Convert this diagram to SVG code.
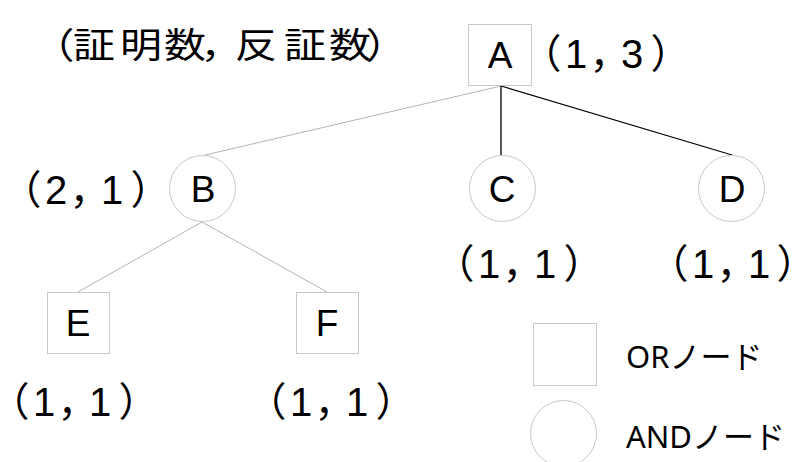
<svg xmlns="http://www.w3.org/2000/svg" width="799" height="462" viewBox="0 0 799 462">
<style>
.or{fill:#fff;stroke:#c8c8c8;stroke-width:1}
.and{fill:#fff;stroke:#c8c8c8;stroke-width:1}
.lbl{font-family:"Liberation Sans","Noto Sans CJK JP",sans-serif;font-size:37px;fill:#000;text-anchor:middle}
.num{font-family:"Liberation Sans","Noto Sans CJK JP",sans-serif;font-size:40px;fill:#000;font-feature-settings:"palt"}
.title{font-family:"Noto Sans CJK JP",sans-serif;font-size:42px;fill:#000;font-feature-settings:"palt"}
.leg{font-family:"Noto Sans","Noto Sans CJK JP",sans-serif;font-size:31px;fill:#000}
.thin{stroke:#b4b4b4;stroke-width:1;fill:none}
.bold{stroke:#000;stroke-width:1.3;fill:none}
</style>
<rect width="799" height="462" fill="#fff"/>
<g id="connectors">
<line class="thin" x1="501" y1="86" x2="205" y2="155"/>
<line class="bold" x1="501" y1="86" x2="501" y2="155"/>
<line class="bold" x1="501" y1="86" x2="732" y2="155"/>
<line class="thin" x1="202" y1="222" x2="78" y2="292"/>
<line class="thin" x1="202" y1="222" x2="327" y2="292"/>
</g>
<text class="title" transform="scale(1,0.85)" x="52 73 120 164 203 235 284 329 367" y="68.5">（証明数，反証数）</text>
<g id="node-A">
<rect class="or" x="468.5" y="24.5" width="63" height="61"/>
<text class="lbl" x="500" y="68">A</text>
<text class="num" x="540 565 592 621 652" y="68">（1，3）</text>
</g>
<g id="node-B">
<circle class="and" cx="202.5" cy="188.5" r="33"/>
<text class="lbl" x="203" y="202">B</text>
<text class="num" x="20 45 72 101 132" y="204">（2，1）</text>
</g>
<g id="node-C">
<circle class="and" cx="502.5" cy="188.5" r="33"/>
<text class="lbl" x="502" y="202">C</text>
<text class="num" x="453 478 505 534 565" y="278">（1，1）</text>
</g>
<g id="node-D">
<circle class="and" cx="731.5" cy="188.5" r="33"/>
<text class="lbl" x="732" y="202">D</text>
<text class="num" x="667 692 719 748 778" y="278">（1，1）</text>
</g>
<g id="node-E">
<rect class="or" x="47.5" y="292.5" width="62" height="61"/>
<text class="lbl" x="78" y="336">E</text>
<text class="num" x="8 33 60 89 120" y="416">（1，1）</text>
</g>
<g id="node-F">
<rect class="or" x="296.5" y="292.5" width="62" height="61"/>
<text class="lbl" x="327" y="336">F</text>
<text class="num" x="265 290 317 346 377" y="416">（1，1）</text>
</g>
<g id="legend">
<rect class="or" x="533.5" y="323.5" width="63" height="62"/>
<text class="leg" x="626" y="368">ORノード</text>
<circle class="and" cx="563.5" cy="433.5" r="33"/>
<text class="leg" x="626" y="448">ANDノード</text>
</g>
</svg>
